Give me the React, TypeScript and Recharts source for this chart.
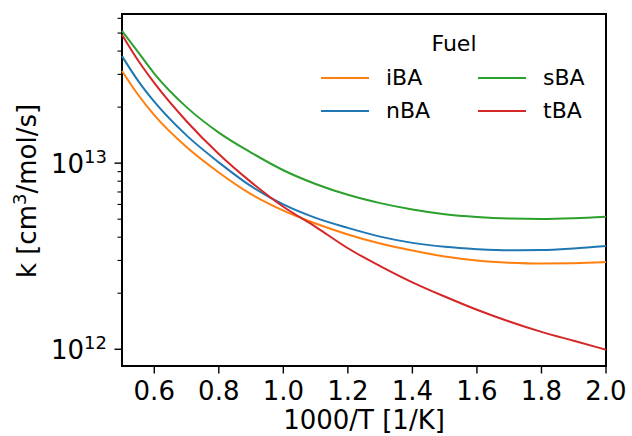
import React from 'react'
import { LineChart, Line, XAxis, YAxis, ReferenceArea, Legend, Label } from 'recharts'

// 1000/T [1/K]
const invT = [0.5, 0.55, 0.6, 0.7, 0.8, 0.9, 1.0, 1.1, 1.2, 1.3, 1.4, 1.5, 1.6, 1.7, 1.8, 1.9, 2.0]

// k [cm3/mol/s]
const iBA = [3.13e13, 2.33e13, 1.81e13, 1.22e13, 8.91e12, 6.81e12, 5.56e12, 4.74e12, 4.14e12, 3.7e12, 3.39e12, 3.15e12, 3.0e12, 2.92e12, 2.89e12, 2.9e12, 2.94e12]
const nBA = [3.76e13, 2.77e13, 2.14e13, 1.41e13, 1.01e13, 7.52e12, 6.0e12, 5.08e12, 4.49e12, 4.03e12, 3.73e12, 3.55e12, 3.45e12, 3.4e12, 3.41e12, 3.48e12, 3.59e12]
const sBA = [5.14e13, 3.95e13, 3.03e13, 2.0e13, 1.46e13, 1.14e13, 9.16e12, 7.73e12, 6.76e12, 6.1e12, 5.64e12, 5.32e12, 5.14e12, 5.04e12, 5.01e12, 5.06e12, 5.16e12]
const tBA = [4.9e13, 3.56e13, 2.7e13, 1.68e13, 1.12e13, 7.91e12, 5.83e12, 4.55e12, 3.49e12, 2.8e12, 2.29e12, 1.92e12, 1.63e12, 1.41e12, 1.24e12, 1.11e12, 9.95e11]

const xTicks = [0.6, 0.8, 1.0, 1.2, 1.4, 1.6, 1.8, 2.0]
const yTicks = [
  1e12, 2e12, 3e12, 4e12, 5e12, 6e12, 7e12, 8e12, 9e12,
  1e13, 2e13, 3e13, 4e13, 5e13, 6e13,
]
const xDomain = [0.5, 2.0]
const yDomain = [8.13e11, 6.33e13]

// legend is column-major, 2 columns
const fuels = [
  { key: 'iBA', color: '#ff7f0e' },
  { key: 'nBA', color: '#1f77b4' },
  { key: 'sBA', color: '#2ca02c' },
  { key: 'tBA', color: '#d62728' },
]

const data = invT.map((x, i) => ({
  x,
  iBA: iBA[i],
  nBA: nBA[i],
  sBA: sBA[i],
  tBA: tBA[i],
}))

const FONT = '"DejaVu Sans", sans-serif'
const FS = 26

const XTick = (props: any) => {
  const { x, y, payload } = props
  return (
    <g>
      <line x1={x} x2={x} y1={y} y2={y + 7.5} stroke="#000" strokeWidth={1.4} />
      <text x={x} y={y + 34} textAnchor="middle" fontSize={FS} fill="#000" fontFamily={FONT}>
        {Number(payload.value).toFixed(1)}
      </text>
    </g>
  )
}

const YTick = (props: any) => {
  const { x, y, payload } = props
  const v = payload.value
  const exp = Math.round(Math.log10(v))
  const major = Math.abs(v - Math.pow(10, exp)) < v * 1e-6
  return (
    <g>
      <line x1={x} x2={x - (major ? 7.5 : 4.5)} y1={y} y2={y} stroke="#000" strokeWidth={major ? 1.4 : 1.1} />
      {major && (
        <text x={x - 15} y={y + 10} textAnchor="end" fontSize={FS} fill="#000" fontFamily={FONT}>
          <tspan>10</tspan>
          <tspan dy={-10.5} fontSize={18}>{exp}</tspan>
        </text>
      )}
    </g>
  )
}

const FuelLegend = () => (
  <div style={{ position: 'relative', width: 632, height: 0, fontFamily: FONT }}>
    <div style={{ position: 'absolute', left: 404, top: 31, width: 100, textAlign: 'center', fontSize: 22, lineHeight: '26px' }}>
      Fuel
    </div>
    {fuels.map((f, i) => {
      const col = Math.floor(i / 2)
      const row = i % 2
      const left = 321 + col * 157
      const top = 78 + row * 33
      return (
        <div key={f.key}>
          <div style={{ position: 'absolute', left, top: top - 1, width: 48, height: 2, background: f.color }} />
          <div style={{ position: 'absolute', left: left + 65, top: top - 13, fontSize: 22, lineHeight: '26px' }}>
            {f.key}
          </div>
        </div>
      )
    })}
  </div>
)

const App: React.FC = () => {
  return (
    <div style={{ position: 'absolute', left: 0, top: 0, width: 632, height: 436, background: '#fff', fontFamily: FONT }}>
      <LineChart width={632} height={436} data={data} margin={{ top: 14, right: 26, bottom: 0, left: 0 }}>
        <XAxis
          dataKey="x"
          type="number"
          domain={xDomain}
          ticks={xTicks}
          interval={0}
          axisLine={false}
          tickLine={false}
          tickSize={0}
          tickMargin={0}
          tick={<XTick />}
          height={70}
        >
          <Label
            content={() => (
              <text x={364} y={429} textAnchor="middle" fontSize={FS} fill="#000" fontFamily={FONT}>
                1000/T [1/K]
              </text>
            )}
          />
        </XAxis>
        <YAxis
          type="number"
          scale="log"
          domain={yDomain}
          allowDataOverflow
          ticks={yTicks}
          interval={0}
          axisLine={false}
          tickLine={false}
          tickSize={0}
          tickMargin={0}
          tick={<YTick />}
          width={122}
        >
          <Label
            content={() => (
              <text
                x={36}
                y={191}
                transform="rotate(-90, 36, 191)"
                textAnchor="middle"
                fontSize={FS}
                fill="#000"
                fontFamily={FONT}
              >
                k [cm<tspan dy={-10} fontSize={18}>3</tspan><tspan dy={10}>/mol/s]</tspan>
              </text>
            )}
          />
        </YAxis>
        <Legend content={<FuelLegend />} wrapperStyle={{ left: 0, top: 0, width: 632 }} />
        {fuels.map((f) => (
          <Line
            key={f.key}
            dataKey={f.key}
            type="monotone"
            stroke={f.color}
            strokeWidth={2}
            dot={false}
            isAnimationActive={false}
          />
        ))}
        <ReferenceArea
          x1={xDomain[0]}
          x2={xDomain[1]}
          y1={yDomain[0]}
          y2={yDomain[1]}
          fill="none"
          stroke="#000"
          strokeWidth={2}
          ifOverflow="visible"
        />
      </LineChart>
    </div>
  )
}

export default App
